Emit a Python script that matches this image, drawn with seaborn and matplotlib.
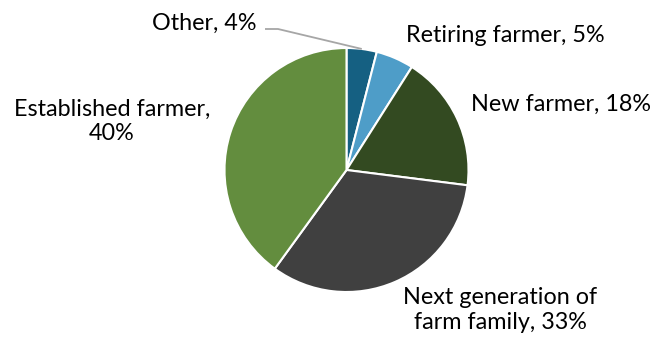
import matplotlib
matplotlib.use("Agg")
import matplotlib.pyplot as plt
import seaborn as sns
import numpy as np

sns.set_theme(style="white")
plt.rcParams["font.family"] = ["Lato", "DejaVu Sans"]

categories = ["Other", "Retiring farmer", "New farmer",
              "Next generation of\nfarm family", "Established farmer,\n"]
shares = [4, 5, 18, 33, 40]
colors = ["#156082", "#4E9DC8", "#334A21", "#404040", "#638D3E"]

W, H = 651, 337
fig = plt.figure(figsize=(W / 100, H / 100), dpi=100)
fig.patch.set_facecolor("white")

cx, cy, r = 346.5, 170, 122
ax = fig.add_axes([(cx - r) / W, (H - cy - r) / H, 2 * r / W, 2 * r / H])
wedges, _ = ax.pie(shares, colors=colors, startangle=90, counterclock=False,
                   radius=1, wedgeprops=dict(edgecolor="white", linewidth=1.5))
ax.set_xlim(-1, 1)
ax.set_ylim(-1, 1)
ax.set_aspect("equal")
ax.axis("off")

fs = 16.8
lab = [f"{c}, {v}%" for c, v in zip(categories[:3], shares[:3])]
lab.append(f"Next generation of\nfarm family, {shares[3]}%")
lab.append(f"Established farmer,\n{shares[4]}%")

def fx(px):
    return px / W

def fy(py):
    return 1 - py / H

fig.text(fx(257), fy(23), lab[0], ha="right", va="center", fontsize=fs, color="#000000")
fig.text(fx(406), fy(35), lab[1], ha="left", va="center", fontsize=fs, color="#000000")
fig.text(fx(471), fy(104), lab[2], ha="left", va="center", fontsize=fs, color="#000000")
fig.text(fx(500), fy(310), lab[3], ha="center", va="center", fontsize=fs,
         color="#000000", linespacing=1.18)
fig.text(fx(112), fy(121), lab[4], ha="center", va="center", fontsize=fs,
         color="#000000", linespacing=1.18)

# leader line for the small "Other" wedge, ending at the wedge's mid-angle on the rim
mid = np.deg2rad(90 - shares[0] / sum(shares) * 360 / 2)
ex, ey = np.cos(mid), np.sin(mid)
p0 = ax.transAxes.inverted().transform(fig.transFigure.transform((fx(265), fy(29))))
p1 = ax.transAxes.inverted().transform(fig.transFigure.transform((fx(278), fy(29))))
to_data = lambda p: ax.transData.inverted().transform(ax.transAxes.transform(p))
d0, d1 = to_data(p0), to_data(p1)
ax.plot([d0[0], d1[0], ex], [d0[1], d1[1], ey], color="#A6A6A6", lw=1.3,
        clip_on=False, solid_capstyle="butt")

fig.savefig("out.png", dpi=100, facecolor="white")
